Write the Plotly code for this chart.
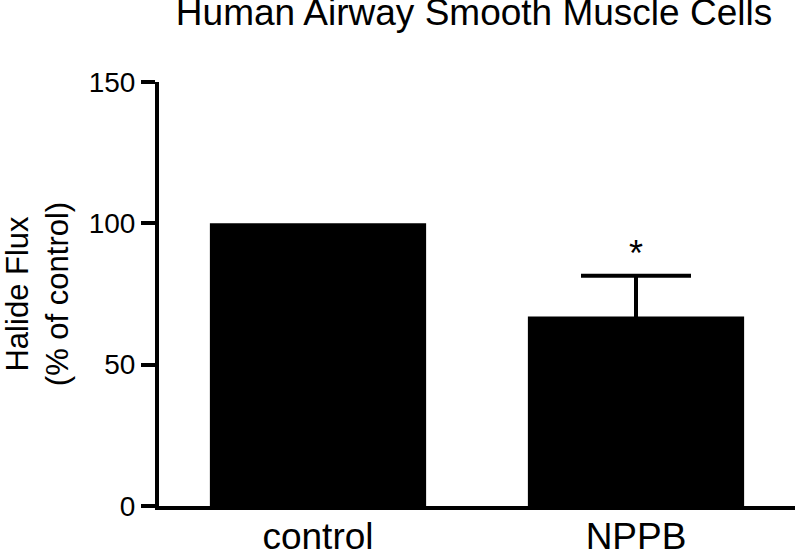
import plotly.graph_objects as go


# ==========================================
# DATA
# ==========================================

categories = ["control", "NPPB"]

halide_flux = [100, 67]

nppb_error = [14.5]

y_ticks = [0, 50, 100, 150]

significance_mark = "*"


# ==========================================
# FIGURE
# ==========================================

FONT = "Arial, Liberation Sans, sans-serif"

fig = go.Figure()

fig.add_trace(

    go.Bar(

        x=categories,

        y=halide_flux,

        width=0.68,

        marker=dict(
            color="black",
            line=dict(width=0)
        ),

        showlegend=False
    )
)

# Error bar on NPPB (lower half hidden inside the black bar)
fig.add_trace(

    go.Scatter(

        x=categories[1:],

        y=halide_flux[1:],

        mode="markers",

        marker=dict(opacity=0),

        error_y=dict(
            type="data",
            array=nppb_error,
            color="black",
            thickness=4,
            width=55
        ),

        showlegend=False,

        hoverinfo="skip"
    )
)

# Significance asterisk
fig.add_annotation(

    x=categories[1],

    y=halide_flux[1] + nppb_error[0],

    text=significance_mark,

    showarrow=False,

    yanchor="bottom",

    font=dict(family=FONT, size=36, color="black")
)

fig.update_layout(

    width=799,

    height=551,

    margin=dict(l=159, r=4, t=82, b=45, autoexpand=False),

    plot_bgcolor="white",

    paper_bgcolor="white",

    title=dict(
        text="Human Airway Smooth Muscle Cells",
        x=474 / 799,
        xanchor="center",
        y=1 - 12 / 551,
        yanchor="middle",
        font=dict(family=FONT, size=37, color="black")
    ),

    xaxis=dict(
        range=[-0.5, 1.5],
        showline=True,
        linecolor="black",
        linewidth=4,
        ticks="",
        showgrid=False,
        zeroline=False,
        ticklabelstandoff=-5,
        tickfont=dict(family=FONT, size=37, color="black")
    ),

    yaxis=dict(
        range=[0, 150],
        tickvals=y_ticks,
        showline=True,
        linecolor="black",
        linewidth=4,
        ticks="outside",
        ticklen=14,
        tickwidth=4,
        tickcolor="black",
        showgrid=False,
        zeroline=False,
        tickfont=dict(family=FONT, size=28, color="black"),
        title=dict(
            text="Halide Flux<br>(% of control)",
            font=dict(family=FONT, size=31, color="black"),
            standoff=40
        )
    )
)

fig.write_html(
    "out.html",
    config={"displayModeBar": False},
    post_script="document.body.style.margin = '0px';"
)
